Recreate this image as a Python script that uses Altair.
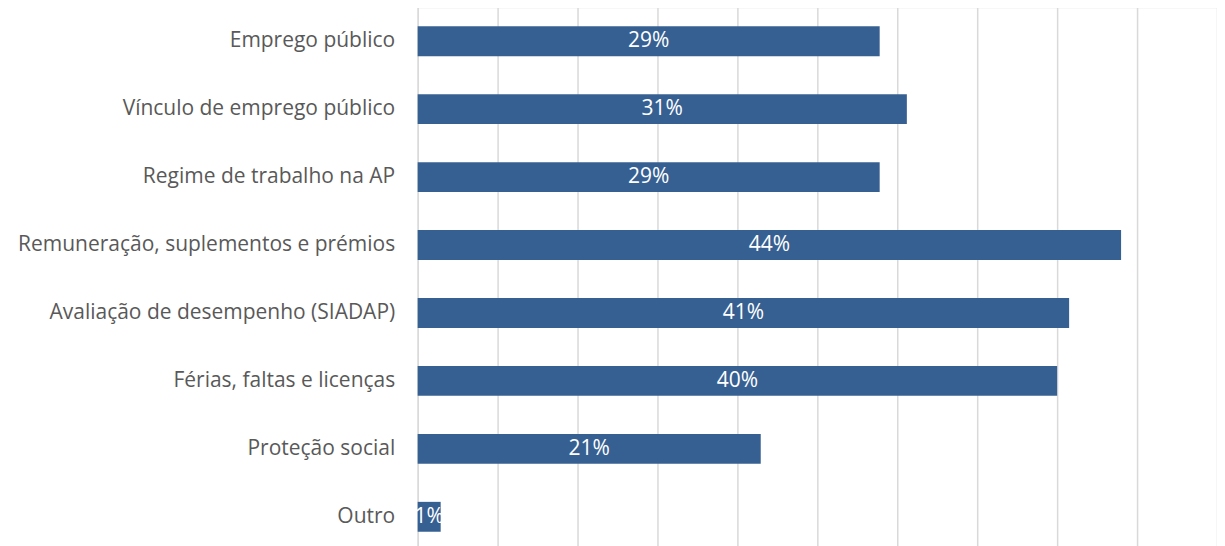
import altair as alt
import pandas as pd

categories = [
    "Emprego público",
    "Vínculo de emprego público",
    "Regime de trabalho na AP",
    "Remuneração, suplementos e prémios",
    "Avaliação de desempenho (SIADAP)",
    "Férias, faltas e licenças",
    "Proteção social",
    "Outro",
]
values = [0.289, 0.306, 0.289, 0.440, 0.4075, 0.400, 0.2146, 0.0144]
labels = ["29%", "31%", "29%", "44%", "41%", "40%", "21%", "1%"]

df = pd.DataFrame({"cat": categories, "val": values, "lab": labels})

FONT = "Open Sans"
y = alt.Y(
    "cat:N",
    sort=categories,
    title=None,
    scale=alt.Scale(paddingInner=0.56, paddingOuter=0.28),
    axis=alt.Axis(
        domain=False,
        ticks=False,
        labelFont=FONT,
        labelFontSize=21,
        labelColor="#595959",
        labelPadding=23,
        labelLimit=420,
    ),
)

bars = alt.Chart(df).mark_bar(color="#376092").encode(
    x=alt.X(
        "val:Q",
        title=None,
        scale=alt.Scale(domain=[0, 0.5], nice=False),
        axis=alt.Axis(
            values=[i * 0.05 for i in range(11)],
            labels=False,
            ticks=False,
            domain=False,
            grid=True,
            gridColor="#D9D9D9",
            gridWidth=1.5,
        ),
    ),
    y=y,
)

text = alt.Chart(df).transform_calculate(mid="datum.val / 2").mark_text(
    color="white", font=FONT, fontSize=21, align="center", baseline="middle"
).encode(
    x=alt.X("mid:Q"),
    y=alt.Y("cat:N", sort=categories),
    text="lab:N",
)

chart = (
    alt.layer(bars, text)
    .properties(
        width=800,
        height=544,
        autosize=alt.AutoSizeParams(type="none"),
        padding={"left": 410, "top": -1, "right": 0, "bottom": 0},
    )
    .configure_view(stroke=None)
    .configure(background="white")
)

chart.save("out.html", embed_options={"renderer": "svg", "actions": False})
